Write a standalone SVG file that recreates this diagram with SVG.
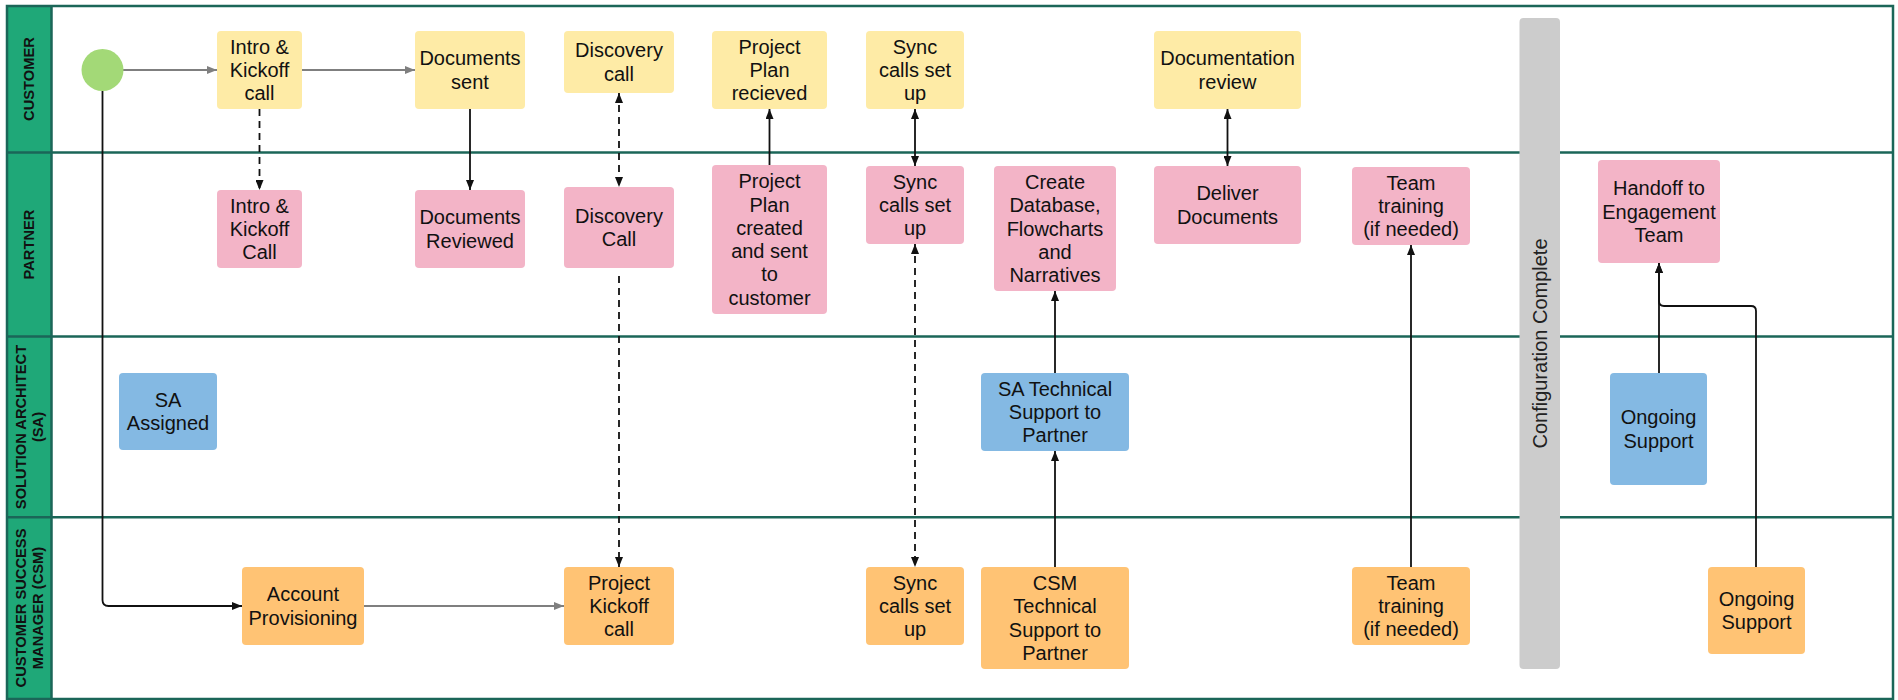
<svg xmlns="http://www.w3.org/2000/svg" width="1898" height="700" viewBox="0 0 1898 700">
<style>
  .lane-line{stroke:#1B6658;stroke-width:2.5;fill:none}
  .hdr{fill:#1FA878}
  .hdr-text{font-family:"Liberation Sans",Arial,sans-serif;font-size:14.7px;font-weight:bold;fill:#111;text-anchor:middle}
  .node rect{rx:4;ry:4}
  .cust{fill:#FEEBA6}
  .part{fill:#F3B4C7}
  .sa{fill:#84B9E3}
  .csm{fill:#FFC374}
  .t{font-family:"Liberation Sans",Arial,sans-serif;font-size:20px;fill:#111;text-anchor:middle}
  .c{fill:none;stroke:#111;stroke-width:1.8}
  .g{fill:none;stroke:#7F7F7F;stroke-width:1.8}
  .d{stroke-dasharray:7 5}
</style>
<defs>
  <marker id="ah" viewBox="0 0 10 8" refX="10" refY="4" markerWidth="10" markerHeight="8" markerUnits="userSpaceOnUse" orient="auto-start-reverse">
    <path d="M0,0 L10,4 L0,8 z" fill="#111"/>
  </marker>
  <marker id="ahg" viewBox="0 0 10 8" refX="10" refY="4" markerWidth="10" markerHeight="8" markerUnits="userSpaceOnUse" orient="auto-start-reverse">
    <path d="M0,0 L10,4 L0,8 z" fill="#7F7F7F"/>
  </marker>
</defs>

<g id="pool">
  <rect x="0" y="0" width="1898" height="700" fill="#fff"/>
  <rect class="hdr" x="7" y="6" width="44" height="693"/>
  <line class="lane-line" x1="7" y1="152.5" x2="1893" y2="152.5"/>
  <line class="lane-line" x1="7" y1="336.5" x2="1893" y2="336.5"/>
  <line class="lane-line" x1="7" y1="517.3" x2="1893" y2="517.3"/>
  <line class="lane-line" x1="51.5" y1="6" x2="51.5" y2="699"/>
  <rect class="lane-line" x="7" y="6" width="1886" height="693"/>
  <text class="hdr-text" transform="translate(29,79) rotate(-90)" dy="5">CUSTOMER</text>
  <text class="hdr-text" transform="translate(29,244.5) rotate(-90)" dy="5">PARTNER</text>
  <text class="hdr-text" transform="translate(29,427) rotate(-90)"><tspan x="0" y="-3.5">SOLUTION ARCHITECT</tspan><tspan x="0" y="13.5">(SA)</tspan></text>
  <text class="hdr-text" transform="translate(29,608) rotate(-90)"><tspan x="0" y="-3.5">CUSTOMER SUCCESS</tspan><tspan x="0" y="13.5">MANAGER (CSM)</tspan></text>
</g>

<g id="config-complete">
  <rect x="1519.5" y="18" width="40.5" height="651" rx="4" fill="#CCCCCC"/>
  <text class="t" transform="translate(1540,343.5) rotate(-90)" dy="7" style="fill:#222">Configuration Complete</text>
</g>

<g id="connectors">
  <line class="g" x1="123" y1="70" x2="217" y2="70" marker-end="url(#ahg)"/>
  <line class="g" x1="302" y1="70" x2="415" y2="70" marker-end="url(#ahg)"/>
  <line class="g" x1="364" y1="606" x2="564" y2="606" marker-end="url(#ahg)"/>
  <path class="c" d="M102.5,91 V600 Q102.5,606 108.5,606 H242" marker-end="url(#ah)"/>
  <line class="c d" x1="259.5" y1="109" x2="259.5" y2="190" marker-end="url(#ah)"/>
  <line class="c" x1="470" y1="109" x2="470" y2="190" marker-end="url(#ah)"/>
  <line class="c d" x1="619" y1="93" x2="619" y2="187" marker-start="url(#ah)" marker-end="url(#ah)"/>
  <line class="c d" x1="619" y1="276" x2="619" y2="567" marker-end="url(#ah)"/>
  <line class="c" x1="769.5" y1="165" x2="769.5" y2="109" marker-end="url(#ah)"/>
  <line class="c" x1="915" y1="109" x2="915" y2="166" marker-start="url(#ah)" marker-end="url(#ah)"/>
  <line class="c d" x1="915" y1="244" x2="915" y2="567" marker-start="url(#ah)" marker-end="url(#ah)"/>
  <line class="c" x1="1055" y1="567" x2="1055" y2="451" marker-end="url(#ah)"/>
  <line class="c" x1="1055" y1="373" x2="1055" y2="291" marker-end="url(#ah)"/>
  <line class="c" x1="1227.5" y1="109" x2="1227.5" y2="166" marker-start="url(#ah)" marker-end="url(#ah)"/>
  <line class="c" x1="1411" y1="567" x2="1411" y2="245" marker-end="url(#ah)"/>
  <line class="c" x1="1659" y1="373" x2="1659" y2="263" marker-end="url(#ah)"/>
  <path class="c" d="M1756,567 V311 Q1756,306 1751,306 H1664 Q1659,306 1659,301 V263" marker-end="url(#ah)"/>
</g>

<g id="start"><circle cx="102.5" cy="70" r="21" fill="#A3D977"/></g>

<g id="intro-customer" class="node"><rect class="cust" x="217" y="31" width="85" height="78"/>
  <text class="t"><tspan x="259.5" y="53.7">Intro &amp;</tspan><tspan x="259.5" y="77">Kickoff</tspan><tspan x="259.5" y="100.3">call</tspan></text></g>
<g id="documents-sent" class="node"><rect class="cust" x="415" y="31" width="110" height="78"/>
  <text class="t"><tspan x="470" y="65.4">Documents</tspan><tspan x="470" y="88.7">sent</tspan></text></g>
<g id="discovery-customer" class="node"><rect class="cust" x="564" y="31" width="110" height="62"/>
  <text class="t"><tspan x="619" y="57.4">Discovery</tspan><tspan x="619" y="80.7">call</tspan></text></g>
<g id="plan-received" class="node"><rect class="cust" x="712" y="31" width="115" height="78"/>
  <text class="t"><tspan x="769.5" y="53.7">Project</tspan><tspan x="769.5" y="77">Plan</tspan><tspan x="769.5" y="100.3">recieved</tspan></text></g>
<g id="sync-customer" class="node"><rect class="cust" x="866" y="31" width="98" height="78"/>
  <text class="t"><tspan x="915" y="53.7">Sync</tspan><tspan x="915" y="77">calls set</tspan><tspan x="915" y="100.3">up</tspan></text></g>
<g id="documentation-review" class="node"><rect class="cust" x="1154" y="31" width="147" height="78"/>
  <text class="t"><tspan x="1227.5" y="65.4">Documentation</tspan><tspan x="1227.5" y="88.7">review</tspan></text></g>

<g id="intro-partner" class="node"><rect class="part" x="217" y="190" width="85" height="78"/>
  <text class="t"><tspan x="259.5" y="212.7">Intro &amp;</tspan><tspan x="259.5" y="236">Kickoff</tspan><tspan x="259.5" y="259.3">Call</tspan></text></g>
<g id="documents-reviewed" class="node"><rect class="part" x="415" y="190" width="110" height="78"/>
  <text class="t"><tspan x="470" y="224.4">Documents</tspan><tspan x="470" y="247.7">Reviewed</tspan></text></g>
<g id="discovery-partner" class="node"><rect class="part" x="564" y="187" width="110" height="81"/>
  <text class="t"><tspan x="619" y="222.9">Discovery</tspan><tspan x="619" y="246.2">Call</tspan></text></g>
<g id="plan-created" class="node"><rect class="part" x="712" y="165" width="115" height="149"/>
  <text class="t"><tspan x="769.5" y="188.2">Project</tspan><tspan x="769.5" y="211.5">Plan</tspan><tspan x="769.5" y="234.8">created</tspan><tspan x="769.5" y="258.1">and sent</tspan><tspan x="769.5" y="281.4">to</tspan><tspan x="769.5" y="304.7">customer</tspan></text></g>
<g id="sync-partner" class="node"><rect class="part" x="866" y="166" width="98" height="78"/>
  <text class="t"><tspan x="915" y="188.7">Sync</tspan><tspan x="915" y="212">calls set</tspan><tspan x="915" y="235.3">up</tspan></text></g>
<g id="create-database" class="node"><rect class="part" x="994" y="166" width="122" height="125"/>
  <text class="t"><tspan x="1055" y="188.9">Create</tspan><tspan x="1055" y="212.2">Database,</tspan><tspan x="1055" y="235.5">Flowcharts</tspan><tspan x="1055" y="258.8">and</tspan><tspan x="1055" y="282.1">Narratives</tspan></text></g>
<g id="deliver-documents" class="node"><rect class="part" x="1154" y="166" width="147" height="78"/>
  <text class="t"><tspan x="1227.5" y="200.4">Deliver</tspan><tspan x="1227.5" y="223.7">Documents</tspan></text></g>
<g id="team-training-partner" class="node"><rect class="part" x="1352" y="167" width="118" height="78"/>
  <text class="t"><tspan x="1411" y="189.7">Team</tspan><tspan x="1411" y="213">training</tspan><tspan x="1411" y="236.3">(if needed)</tspan></text></g>
<g id="handoff" class="node"><rect class="part" x="1598" y="160" width="122" height="103"/>
  <text class="t"><tspan x="1659" y="195.2">Handoff to</tspan><tspan x="1659" y="218.5">Engagement</tspan><tspan x="1659" y="241.8">Team</tspan></text></g>

<g id="sa-assigned" class="node"><rect class="sa" x="119" y="373" width="98" height="77"/>
  <text class="t"><tspan x="168" y="406.9">SA</tspan><tspan x="168" y="430.2">Assigned</tspan></text></g>
<g id="sa-technical" class="node"><rect class="sa" x="981" y="373" width="148" height="78"/>
  <text class="t"><tspan x="1055" y="395.7">SA Technical</tspan><tspan x="1055" y="419">Support to</tspan><tspan x="1055" y="442.3">Partner</tspan></text></g>
<g id="ongoing-sa" class="node"><rect class="sa" x="1610" y="373" width="97" height="112"/>
  <text class="t"><tspan x="1658.5" y="424.4">Ongoing</tspan><tspan x="1658.5" y="447.7">Support</tspan></text></g>

<g id="account-provisioning" class="node"><rect class="csm" x="242" y="567" width="122" height="78"/>
  <text class="t"><tspan x="303" y="601.4">Account</tspan><tspan x="303" y="624.7">Provisioning</tspan></text></g>
<g id="project-kickoff" class="node"><rect class="csm" x="564" y="567" width="110" height="78"/>
  <text class="t"><tspan x="619" y="589.7">Project</tspan><tspan x="619" y="613">Kickoff</tspan><tspan x="619" y="636.3">call</tspan></text></g>
<g id="sync-csm" class="node"><rect class="csm" x="866" y="567" width="98" height="78"/>
  <text class="t"><tspan x="915" y="589.7">Sync</tspan><tspan x="915" y="613">calls set</tspan><tspan x="915" y="636.3">up</tspan></text></g>
<g id="csm-technical" class="node"><rect class="csm" x="981" y="567" width="148" height="102"/>
  <text class="t"><tspan x="1055" y="590.1">CSM</tspan><tspan x="1055" y="613.4">Technical</tspan><tspan x="1055" y="636.7">Support to</tspan><tspan x="1055" y="660">Partner</tspan></text></g>
<g id="team-training-csm" class="node"><rect class="csm" x="1352" y="567" width="118" height="78"/>
  <text class="t"><tspan x="1411" y="589.7">Team</tspan><tspan x="1411" y="613">training</tspan><tspan x="1411" y="636.3">(if needed)</tspan></text></g>
<g id="ongoing-csm" class="node"><rect class="csm" x="1708" y="567" width="97" height="87"/>
  <text class="t"><tspan x="1756.5" y="606">Ongoing</tspan><tspan x="1756.5" y="629.3">Support</tspan></text></g>
</svg>
